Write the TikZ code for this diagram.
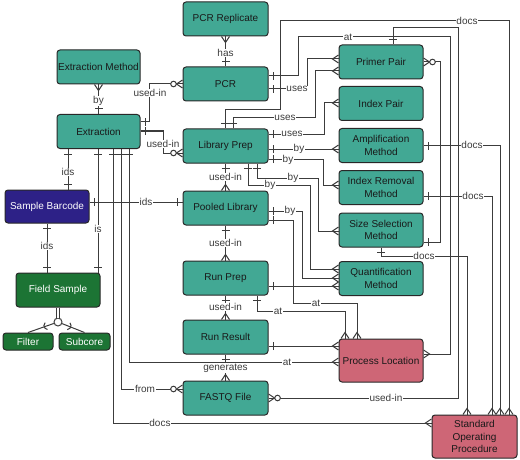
\documentclass[tikz,border=0pt]{standalone}
\usepackage{fontspec}
\setmainfont{Liberation Sans}
\usetikzlibrary{decorations.markings}

\definecolor{entteal}{RGB}{66,168,148}
\definecolor{entgreen}{RGB}{28,116,52}
\definecolor{entblue}{RGB}{45,33,135}
\definecolor{entrose}{RGB}{206,102,118}
\definecolor{edgegray}{RGB}{40,40,40}
\definecolor{wiregray}{RGB}{60,60,60}

\tikzset{
  ent/.style={draw=edgegray, line width=1pt, rounded corners=3pt, fill=entteal,
    minimum width=85pt, minimum height=34pt, align=center, inner sep=1pt,
    font=\fontsize{10}{12.5}\selectfont, text=black!90},
  site/.style={ent, fill=entrose},
  sample/.style={ent, fill=entgreen, text=white},
  rel/.style={draw=wiregray, line width=1pt},
  lbl/.style={fill=white, inner sep=0.6pt, font=\fontsize{10}{12}\selectfont, text=wiregray},
  one start/.style={postaction={decorate,decoration={markings,
    mark=at position 0.0001 with {\draw[rel] (5pt,-4pt) -- (5pt,4pt);}}}},
  one end/.style={postaction={decorate,decoration={markings,
    mark=at position 0.9999 with {\draw[rel] (-5pt,-4pt) -- (-5pt,4pt);}}}},
  many start/.style={postaction={decorate,decoration={markings,
    mark=at position 0.0001 with {\draw[rel] (0pt,-4pt) -- (6pt,0pt) -- (0pt,4pt);}}}},
  many end/.style={postaction={decorate,decoration={markings,
    mark=at position 0.9999 with {\draw[rel] (0pt,-4pt) -- (-6pt,0pt) -- (0pt,4pt);}}}},
  zmany start/.style={postaction={decorate,decoration={markings,
    mark=at position 0.0001 with {\draw[rel] (0pt,-4pt) -- (6pt,0pt) -- (0pt,4pt);
      \draw[rel, fill=white] (9pt,0pt) circle[radius=2.8pt];}}}},
  zmany end/.style={postaction={decorate,decoration={markings,
    mark=at position 0.9999 with {\draw[rel] (0pt,-4pt) -- (-6pt,0pt) -- (0pt,4pt);
      \draw[rel, fill=white] (-9pt,0pt) circle[radius=2.8pt];}}}},
  subset mark/.style={postaction={decorate,decoration={markings,
    mark=at position 0.3 with {\draw[rel] (-2pt,0pt) ++(-65:4pt) arc[start angle=-65, end angle=65, radius=4pt];}}}},
}

\begin{document}
\begin{tikzpicture}[x=1pt, y=-1pt]
    \useasboundingbox (0,0) rectangle (520,460);

    % entities, centre column
    \node[ent] (pcrrep) at (225.5,19) {PCR Replicate};
    \node[ent] (pcr) at (225.5,84) {PCR};
    \node[ent] (lprep) at (225.5,146) {Library Prep};
    \node[ent] (pool) at (225.5,208) {Pooled Library};
    \node[ent] (runprep) at (225.5,278) {Run Prep};
    \node[ent] (runres) at (225.5,337) {Run Result};
    \node[ent] (fastq) at (225.5,398) {FASTQ File};

    % left column
    \node[ent, minimum width=83pt] (exmeth) at (98.5,67) {Extraction Method};
    \node[ent, minimum width=83pt] (extr) at (98.5,131.5) {Extraction};
    \node[ent, fill=entblue, text=white, minimum width=84pt, minimum height=33pt] (barcode) at (47,206.5) {Sample Barcode};
    \node[sample, minimum width=84pt] (field) at (58,290) {Field Sample};
    \node[sample, minimum width=50pt, minimum height=17pt] (filter) at (28,341.5) {Filter};
    \node[sample, minimum width=51pt, minimum height=17pt] (subcore) at (84.5,341.5) {Subcore};

    % right column
    \node[ent, minimum width=84pt] (primer) at (381,62) {Primer Pair};
    \node[ent, minimum width=84pt] (ipair) at (381,103.5) {Index Pair};
    \node[ent, minimum width=84pt] (amp) at (381,145.5) {Amplification\\Method};
    \node[ent, minimum width=84pt] (irem) at (381,187.5) {Index Removal\\Method};
    \node[ent, minimum width=84pt] (sizesel) at (381,230) {Size Selection\\Method};
    \node[ent, minimum width=84pt] (quant) at (381,278.5) {Quantification\\Method};
    \node[site, minimum width=84pt, minimum height=43pt] (ploc) at (381,360.5) {Process Location};
    \node[site, minimum height=43pt] (sop) at (474.5,436.5) {Standard\\Operating\\Procedure};

    % subtypes of Field Sample
    \node[circle, draw=wiregray, line width=1pt, fill=white, inner sep=0pt, minimum size=8pt] (disj) at (58,322) {};
    \draw[rel, double distance=2.2pt] (field.south) -- (disj.north);
    \draw[rel, subset mark] (disj) -- (filter.north);
    \draw[rel, subset mark] (disj) -- (subcore.north);

    % Extraction
    \draw[rel, one start, many end] (extr.north) -- (exmeth.south);
    \draw[rel, one start, zmany end] (extr.east |- 0,122) -| (149,84) -- (pcr.west);
    \draw[rel, one start, zmany end] (extr.east |- 0,131) -| (163,153) -- (lprep.west |- 0,153);
    \draw[rel, one start, one end] (extr.south -| 68,0) -- (barcode.north -| 68,0);
    \draw[rel, one start, one end] (extr.south -| 98,0) -- (field.north -| 98,0);
    \draw[rel, one start, many end] (extr.south -| 113,0) |- (sop.west |- 0,423);
    \draw[rel, one start, zmany end] (extr.south -| 121,0) |- (fastq.west |- 0,389);
    \draw[rel, one start, many end] (extr.south -| 129,0) |- (ploc.west |- 0,362);

    % Sample Barcode
    \draw[rel, one start, one end] (barcode.east |- 0,202) -- (pool.west |- 0,202);
    \draw[rel, one start, one end] (barcode.south -| 47,0) -- (field.north -| 47,0);

    % centre chain
    \draw[rel, one start, many end] (pcr.north) -- (pcrrep.south);
    \draw[rel, one start, many end] (lprep.south) -- (pool.north);
    \draw[rel, one start, many end] (pool.south) -- (runprep.north);
    \draw[rel, one start, many end] (runprep.south) -- (runres.north);
    \draw[rel, one start, many end] (runres.south) -- (fastq.north);

    % PCR
    \draw[rel, one start, many end] (pcr.east |- 0,76) -| (298,37) -| (450,354) -- (ploc.east |- 0,354);
    \draw[rel, one start, many end] (pcr.east |- 0,89) -| (307,59) -- (primer.west |- 0,59);

    % Library Prep
    \draw[rel, one start, many end] (lprep.north -| 233,0) |- (315,118) |- (primer.west |- 0,71);
    \draw[rel, one start, many end] (lprep.north -| 225,0) |- (280,110) |- (509,21) -- (sop.north -| 509,0);
    \draw[rel, one start, many end] (lprep.east |- 0,134) -| (324,103) -- (ipair.west |- 0,103);
    \draw[rel, one start, many end] (lprep.east |- 0,149) -- (amp.west |- 0,149);
    \draw[rel, one start, many end] (lprep.east |- 0,159) -| (323,185) -- (irem.west |- 0,185);
    \draw[rel, one start, many end] (lprep.south -| 257,0) |- (318,178) |- (sizesel.west |- 0,231);
    \draw[rel, one start, many end] (lprep.south -| 248,0) |- (310,185) |- (quant.west |- 0,269);

    % Pooled Library, Run Prep, Run Result
    \draw[rel, one start, many end] (pool.east |- 0,211) -| (302,278) -- (quant.west |- 0,278);
    \draw[rel, one start, many end] (pool.east |- 0,220) -| (293,303) -| (ploc.north -| 357,0);
    \draw[rel, one start, many end] (runprep.east |- 0,286) -- (quant.west |- 0,286);
    \draw[rel, one start, many end] (runprep.south -| 257,0) |- (345,311) -- (ploc.north -| 345,0);
    \draw[rel, one start, many end] (runres.east |- 0,346) -- (ploc.west |- 0,346);

    % FASTQ File
    \draw[rel, zmany start, one end] (fastq.east |- 0,398) -| (458,28) -| (primer.north -| 393,0);

    % methods
    \draw[rel, one start, zmany end] (sizesel.east |- 0,242) -| (440,62) -- (primer.east);
    \draw[rel, one start, many end] (amp.east) -| (sop.north -| 500,0);
    \draw[rel, one start, many end] (irem.east |- 0,196) -| (sop.north -| 492,0);
    \draw[rel, one start, many end] (sizesel.south) |- (467,256) -- (sop.north -| 467,0);

    % labels
    \node[lbl] (lhas) at (225.5,53) {has};
    \node[lbl] (lby1) at (98.5,101) {by};
    \node[lbl] (luse1) at (150,93) {used-in};
    \node[lbl] (luse2) at (163,144) {used-in};
    \node[lbl] (lids1) at (68,172) {ids};
    \node[lbl] (lis) at (98,229) {is};
    \node[lbl] (lids2) at (146,202) {ids};
    \node[lbl] (lids3) at (47,246) {ids};
    \node[lbl] (ldocs1) at (160,423) {docs};
    \node[lbl] (lfrom) at (145,389) {from};
    \node[lbl] (lat1) at (287,362) {at};
    \node[lbl] (luse3) at (225.5,177) {used-in};
    \node[lbl] (luse4) at (225.5,243) {used-in};
    \node[lbl] (luse5) at (225.5,307) {used-in};
    \node[lbl] (lgen) at (225.5,368) {generates};
    \node[lbl] (lat2) at (348,37) {at};
    \node[lbl] (luses1) at (297,89) {uses};
    \node[lbl] (luses2) at (285,118) {uses};
    \node[lbl] (ldocs2) at (467,21) {docs};
    \node[lbl] (luses3) at (292,134) {uses};
    \node[lbl] (lby2) at (299,149) {by};
    \node[lbl] (lby3) at (288,160) {by};
    \node[lbl] (lby4) at (293,178) {by};
    \node[lbl] (lby5) at (270,185) {by};
    \node[lbl] (lby6) at (290,211) {by};
    \node[lbl] (lat3) at (316,303) {at};
    \node[lbl] (lat4) at (278,311) {at};
    \node[lbl] (luse6) at (386,398) {used-in};
    \node[lbl] (ldocs3) at (472,145) {docs};
    \node[lbl] (ldocs4) at (473,196) {docs};
    \node[lbl] (ldocs5) at (424,256) {docs};
\end{tikzpicture}
\end{document}
